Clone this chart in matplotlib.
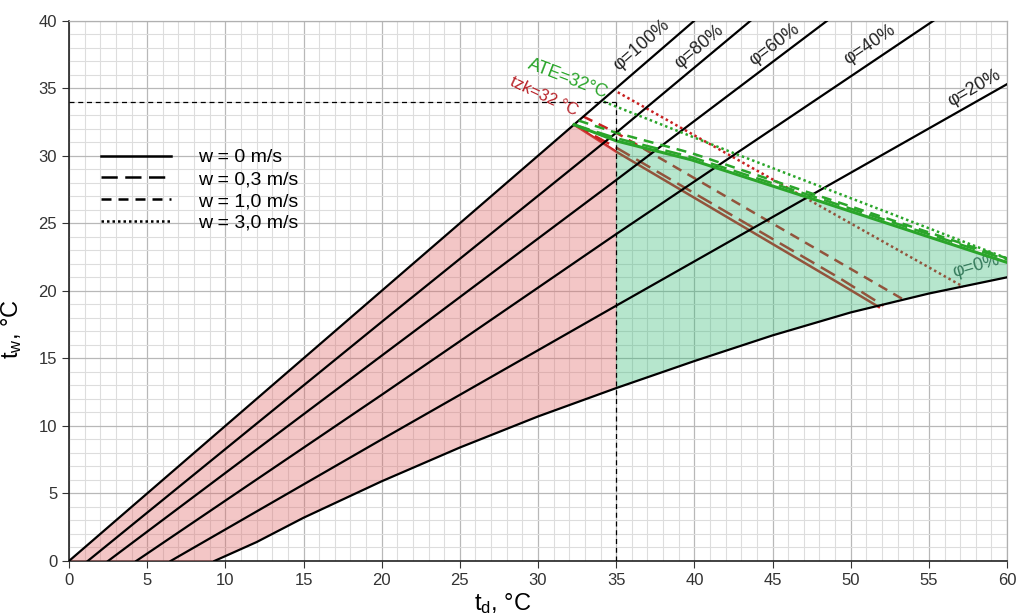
import numpy as np
import matplotlib.pyplot as plt
from matplotlib.lines import Line2D
from matplotlib.ticker import MultipleLocator

plt.rcParams['font.family'] = ['Liberation Sans', 'DejaVu Sans']
plt.rcParams['mathtext.default'] = 'regular'

## Relative humidity lines (td, tw)
phi100_td = [0.0, 40.0]
phi100_tw = [0.0, 40.0]
phi80_td = [1.2, 20.0, 35.0, 43.6]
phi80_tw = [0.0, 17.7, 31.7, 40.0]
phi60_td = [2.5, 20.0, 35.0, 48.5]
phi60_tw = [0.0, 15.2, 28.2, 40.0]
phi40_td = [4.3, 20.0, 35.0, 55.3]
phi40_tw = [0.0, 12.3, 24.2, 40.0]
phi20_td = [6.5, 20.0, 35.0, 60.0]
phi20_tw = [0.0, 9.0, 18.9, 35.3]
phi0_td = [9.3, 12.0, 15.0, 20.0, 25.0, 30.0, 35.0, 40.0, 45.0, 50.0, 55.0, 60.0]
phi0_tw = [0.0, 1.4, 3.2, 5.9, 8.4, 10.7, 12.8, 14.8, 16.7, 18.4, 19.8, 21.0]

## ATE = 32 C lines for the four wind speeds
ate_w0_td = [32.3, 35.0, 39.8, 47.3, 60.0]
ate_w0_tw = [32.3, 31.1, 29.7, 26.9, 22.1]
ate_w03_td = [32.3, 35.0, 39.8, 47.3, 60.0]
ate_w03_tw = [32.3, 31.3, 29.9, 27.1, 22.3]
ate_w1_td = [32.6, 35.0, 39.8, 47.0, 60.0]
ate_w1_tw = [32.6, 31.7, 30.2, 27.4, 22.4]
ate_w3_td = [34.2, 42.5, 60.0]
ate_w3_tw = [34.0, 30.2, 22.4]

## tzk = 32 C lines for the four wind speeds
tzk_w0_td = [32.3, 35.0, 49.2, 51.8]
tzk_w0_tw = [32.3, 30.3, 20.6, 18.8]
tzk_w03_td = [32.3, 35.0, 49.2, 52.1]
tzk_w03_tw = [32.3, 30.6, 21.0, 18.9]
tzk_w1_td = [32.9, 35.0, 53.6]
tzk_w1_tw = [32.9, 31.7, 19.2]
tzk_w3_td = [35.1, 57.2]
tzk_w3_tw = [34.7, 20.3]

td_limit = 35.0
tw_limit = 34.0

wind_labels = ["w = 0 m/s", "w = 0,3 m/s", "w = 1,0 m/s", "w = 3,0 m/s"]

GREEN = "#2aa52a"
RED = "#c82020"
styles = ["-", (0, (6.5, 3.0)), (0, (4.0, 2.8)), (0, (1.0, 1.2))]

fig = plt.figure(figsize=(10.19, 6.16), dpi=100, facecolor="white")
ax = fig.add_axes([0.0677, 0.0893, 0.9206, 0.8772])

## tzk lines (under the fills -> brownish in the green zone)
tzk = [(tzk_w0_td, tzk_w0_tw), (tzk_w03_td, tzk_w03_tw), (tzk_w1_td, tzk_w1_tw), (tzk_w3_td, tzk_w3_tw)]
for (td, tw), ls in zip(tzk, styles):
  ax.plot(td, tw, c=RED, lw=1.8, ls=ls, zorder=3)

## filled zones
phi0_at_limit = np.interp(td_limit, phi0_td, phi0_tw)
low_td = [t for t in phi0_td if t < td_limit]
low_tw = [w for t, w in zip(phi0_td, phi0_tw) if t < td_limit]
red_top_td = [t for t in tzk_w0_td if t <= td_limit]
red_top_tw = [w for t, w in zip(tzk_w0_td, tzk_w0_tw) if t <= td_limit]
pink_x = [0.0] + red_top_td + [td_limit] + low_td[::-1]
pink_y = [0.0] + red_top_tw + [phi0_at_limit] + low_tw[::-1]
ax.fill(pink_x, pink_y, color="#e06a6a", alpha=0.38, lw=0, zorder=4)

green_top_at_limit = np.interp(td_limit, ate_w0_td, ate_w0_tw)
top_td = [t for t in ate_w0_td if t > td_limit]
top_tw = [w for t, w in zip(ate_w0_td, ate_w0_tw) if t > td_limit]
high_td = [t for t in phi0_td if t > td_limit]
high_tw = [w for t, w in zip(phi0_td, phi0_tw) if t > td_limit]
green_x = [td_limit] + top_td + high_td[::-1] + [td_limit]
green_y = [green_top_at_limit] + top_tw + high_tw[::-1] + [phi0_at_limit]
ax.fill(green_x, green_y, color="#2eb872", alpha=0.35, lw=0, zorder=4)

## psychrometric lines
for td, tw in [(phi100_td, phi100_tw), (phi80_td, phi80_tw), (phi60_td, phi60_tw),
               (phi40_td, phi40_tw), (phi20_td, phi20_tw), (phi0_td, phi0_tw)]:
  ax.plot(td, tw, c="black", lw=1.6, zorder=5)

## ATE lines on top
ate = [(ate_w0_td, ate_w0_tw), (ate_w03_td, ate_w03_tw), (ate_w1_td, ate_w1_tw), (ate_w3_td, ate_w3_tw)]
for (td, tw), ls in zip(ate, styles):
  ax.plot(td, tw, c=GREEN, lw=2.2 if ls == "-" else 1.8, ls=ls, zorder=6)

## guide lines
ax.plot([0, td_limit], [tw_limit, tw_limit], c="black", lw=0.9, ls=(0, (4, 3)), zorder=6)
ax.plot([td_limit, td_limit], [0, tw_limit], c="black", lw=0.9, ls=(0, (4, 3)), zorder=6)

## labels on the lines
ax.text(36.6, 38.2, "φ=100%", rotation=41, ha="center", va="center", fontsize=13, color="#222222", zorder=7)
ax.text(40.3, 38.1, "φ=80%", rotation=40, ha="center", va="center", fontsize=13, color="#222222", zorder=7)
ax.text(45.1, 38.2, "φ=60%", rotation=37, ha="center", va="center", fontsize=13, color="#222222", zorder=7)
ax.text(51.2, 38.2, "φ=40%", rotation=34, ha="center", va="center", fontsize=13, color="#222222", zorder=7)
ax.text(57.9, 35.0, "φ=20%", rotation=30, ha="center", va="center", fontsize=13, color="#222222", zorder=7)
ax.text(58.0, 21.8, "φ=0%", rotation=16, ha="center", va="center", fontsize=13, color="#3a5a50", zorder=3)
ax.text(31.9, 35.7, "ATE=32°C", rotation=-21, ha="center", va="center", fontsize=13, color=GREEN, zorder=7)
ax.text(30.4, 34.4, "tzk=32 °C", rotation=-25, ha="center", va="center", fontsize=12, color="#b82228", zorder=7)

## legend with black proxies
handles = [Line2D([], [], c="black", lw=1.8, ls=ls) for ls in styles]
ax.legend(handles, wind_labels, loc="upper left", bbox_to_anchor=(0.034, 0.763), frameon=False,
          borderpad=0, borderaxespad=0, fontsize=14, handlelength=3.6, handletextpad=1.4,
          labelspacing=0.22)

ax.set_xlim(0, 60)
ax.set_ylim(0, 40)
ax.xaxis.set_major_locator(MultipleLocator(5))
ax.yaxis.set_major_locator(MultipleLocator(5))
ax.xaxis.set_minor_locator(MultipleLocator(1))
ax.yaxis.set_minor_locator(MultipleLocator(1))
ax.grid(which="major", color="#b8b8b8", lw=0.9, zorder=0)
ax.grid(which="minor", color="#dddddd", lw=0.8, zorder=0)
ax.set_axisbelow(True)
ax.tick_params(which="major", direction="out", length=5, labelsize=12, colors="#333333", top=False, right=False)
ax.tick_params(which="minor", length=0)
for side in ["left", "bottom"]:
  ax.spines[side].set_color("#222222")
  ax.spines[side].set_linewidth(1.2)
for side in ["top", "right"]:
  ax.spines[side].set_color("#b0b0b0")
  ax.spines[side].set_linewidth(0.9)

ax.set_xlabel("$t_d$, °C", fontsize=17, labelpad=2)
ax.set_ylabel("$t_w$, °C", fontsize=17, labelpad=4)
ax.xaxis.set_label_coords(0.462, -0.055)
ax.yaxis.set_label_coords(-0.048, 0.43)

plt.savefig("out.png", dpi=100, facecolor="white")
